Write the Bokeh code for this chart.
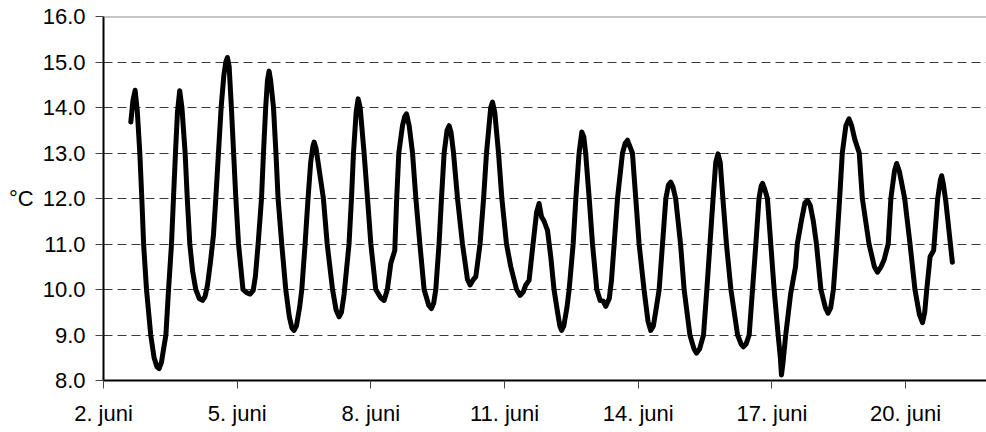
from bokeh.plotting import figure
from bokeh.models import (Range1d, FixedTicker, PrintfTickFormatter, Label, Span)
from bokeh.embed import file_html
from bokeh.resources import INLINE

# day of June (fractional) and temperature (°C)
day = [2.613, 2.66, 2.71, 2.76, 2.815, 2.86, 2.90, 2.965, 3.06, 3.135, 3.20, 3.248, 3.30, 3.35,
       3.40, 3.46, 3.526, 3.57, 3.615, 3.66, 3.71, 3.76, 3.832, 3.88, 3.937, 4.0, 4.071, 4.15,
       4.222, 4.28, 4.334, 4.40, 4.468, 4.52, 4.58, 4.64, 4.70, 4.745, 4.78, 4.82, 4.87, 4.92,
       4.97, 5.03, 5.13, 5.21, 5.29, 5.36, 5.41, 5.47, 5.546, 5.59, 5.64, 5.68, 5.716, 5.75,
       5.815, 5.87, 5.918, 6.0, 6.09, 6.17, 6.23, 6.277, 6.33, 6.40, 6.45, 6.524, 6.59, 6.65,
       6.70, 6.726, 6.77, 6.83, 6.935, 7.02, 7.14, 7.22, 7.287, 7.34, 7.40, 7.51, 7.565, 7.61,
       7.67, 7.714, 7.76, 7.848, 7.925, 8.0, 8.11, 8.22, 8.297, 8.37, 8.447, 8.537, 8.58, 8.627,
       8.71, 8.76, 8.80, 8.86, 8.935, 9.01, 9.10, 9.195, 9.30, 9.36, 9.41, 9.457, 9.53, 9.585,
       9.644, 9.71, 9.756, 9.80, 9.855, 9.945, 10.056, 10.168, 10.227, 10.30, 10.355, 10.45,
       10.53, 10.595, 10.69, 10.73, 10.78, 10.865, 10.94, 11.044, 11.14, 11.27, 11.35, 11.42,
       11.477, 11.55, 11.64, 11.72, 11.775, 11.83, 11.888, 11.964, 12.04, 12.11, 12.19, 12.24,
       12.28, 12.33, 12.40, 12.45, 12.54, 12.60, 12.673, 12.734, 12.78, 12.82, 12.90, 12.974,
       13.07, 13.145, 13.21, 13.273, 13.35, 13.40, 13.46, 13.535, 13.647, 13.71, 13.76, 13.81,
       13.87, 13.945, 14.02, 14.13, 14.22, 14.28, 14.34, 14.39, 14.47, 14.545, 14.62, 14.68,
       14.73, 14.78, 14.84, 14.95, 15.03, 15.16, 15.25, 15.31, 15.38, 15.465, 15.54, 15.61,
       15.68, 15.74, 15.79, 15.84, 15.90, 15.98, 16.08, 16.23, 16.31, 16.36, 16.42, 16.49,
       16.565, 16.64, 16.71, 16.76, 16.79, 16.84, 16.90, 16.975, 17.05, 17.14, 17.19, 17.215,
       17.25, 17.31, 17.42, 17.53, 17.57, 17.66, 17.74, 17.80, 17.86, 17.93, 18.0, 18.10,
       18.20, 18.26, 18.32, 18.38, 18.455, 18.52, 18.58, 18.66, 18.73, 18.79, 18.86, 18.96,
       19.03, 19.18, 19.30, 19.37, 19.45, 19.52, 19.61, 19.67, 19.75, 19.80, 19.86, 19.98,
       20.10, 20.21, 20.31, 20.38, 20.43, 20.475, 20.55, 20.63, 20.72, 20.78, 20.81, 20.85,
       20.90, 21.05]
temp = [13.68, 14.15, 14.38, 13.9, 13.0, 12.0, 11.0, 10.0, 9.0, 8.5, 8.3, 8.26, 8.4, 8.7,
        9.0, 10.0, 11.0, 12.0, 13.0, 13.9, 14.37, 14.0, 13.0, 12.0, 11.0, 10.4, 10.0, 9.8,
        9.76, 9.85, 10.1, 10.6, 11.2, 12.0, 13.0, 14.0, 14.7, 15.0, 15.1, 14.9, 14.0, 13.0,
        12.0, 11.0, 10.0, 9.93, 9.9, 9.98, 10.3, 11.0, 12.0, 13.0, 14.0, 14.6, 14.8, 14.6,
        14.0, 13.0, 12.0, 11.0, 10.0, 9.4, 9.15, 9.1, 9.2, 9.6, 10.0, 11.0, 12.0, 12.8,
        13.15, 13.24, 13.1, 12.7, 12.0, 11.0, 10.0, 9.55, 9.4, 9.5, 9.9, 11.0, 12.0, 13.0,
        13.9, 14.19, 14.0, 13.0, 12.0, 11.0, 10.0, 9.82, 9.76, 10.0, 10.57, 10.86, 12.0, 13.0,
        13.6, 13.8, 13.86, 13.6, 13.0, 12.0, 11.0, 10.0, 9.65, 9.58, 9.7, 10.0, 11.0, 12.0,
        13.0, 13.5, 13.6, 13.45, 13.0, 12.0, 11.0, 10.22, 10.1, 10.22, 10.28, 11.0,
        12.0, 13.0, 14.0, 14.12, 13.9, 13.0, 12.0, 11.0, 10.5, 10.0, 9.87, 9.95,
        10.1, 10.2, 11.0, 11.7, 11.89, 11.6, 11.5, 11.3, 10.7, 10.0, 9.5, 9.2,
        9.1, 9.2, 9.6, 10.0, 11.0, 12.0, 13.0, 13.46, 13.35, 13.0, 12.0, 11.0,
        10.0, 9.76, 9.75, 9.63, 9.8, 10.2, 11.0, 12.0, 13.0, 13.22, 13.28, 13.15,
        13.0, 12.0, 11.0, 10.0, 9.3, 9.1, 9.2, 9.5, 10.0, 11.0, 12.0, 12.3,
        12.36, 12.25, 12.0, 11.0, 10.0, 9.0, 8.7, 8.6, 8.7, 9.0, 10.0, 11.0,
        12.0, 12.8, 12.98, 12.8, 12.0, 11.0, 10.0, 9.0, 8.8, 8.74, 8.8, 9.0,
        10.0, 11.0, 12.0, 12.28, 12.33, 12.2, 12.0, 11.0, 10.0, 9.0, 8.5, 8.12,
        8.4, 9.0, 9.9, 10.5, 11.0, 11.5, 11.9, 11.96, 11.85, 11.5, 11.0, 10.0,
        9.6, 9.48, 9.6, 10.0, 11.0, 12.0, 13.0, 13.6, 13.75, 13.6, 13.3, 13.0,
        12.0, 11.0, 10.5, 10.38, 10.5, 10.66, 11.0, 12.0, 12.6, 12.77, 12.6, 12.0,
        11.0, 10.0, 9.45, 9.27, 9.5, 10.0, 10.72, 10.86, 12.0, 12.4, 12.5, 12.3,
        11.96, 10.6]

x_ticks = [2, 5, 8, 11, 14, 17, 20]
x_tick_labels = ["2. juni", "5. juni", "8. juni", "11. juni", "14. juni", "17. juni", "20. juni"]
y_ticks = [8, 9, 10, 11, 12, 13, 14, 15, 16]
y_label = "°C"

FONT = "Liberation Sans"

p = figure(width=986, height=432, output_backend="svg", toolbar_location=None,
           x_range=Range1d(2, 21.816), y_range=Range1d(8, 16),
           min_border_left=103, min_border_right=0, min_border_top=16, min_border_bottom=52)
p.outline_line_color = None
p.background_fill_color = "white"
p.border_fill_color = "white"

p.xgrid.visible = False
p.ygrid.ticker = FixedTicker(ticks=y_ticks[1:-1])
p.ygrid.grid_line_color = "#3a3a3a"
p.ygrid.grid_line_dash = "9 5"
p.ygrid.grid_line_width = 1

p.add_layout(Span(location=y_ticks[-1], dimension="width", line_color="#8c8c8c", line_width=2))

p.xaxis.ticker = FixedTicker(ticks=x_ticks)
p.xaxis.major_label_overrides = {t: l for t, l in zip(x_ticks, x_tick_labels)}
p.yaxis.ticker = FixedTicker(ticks=y_ticks)
p.yaxis.formatter = PrintfTickFormatter(format="%.1f")

for ax in (p.xaxis, p.yaxis):
    ax.axis_line_color = "black"
    ax.axis_line_width = 2
    ax.major_tick_line_color = "#444444"
    ax.major_tick_line_width = 1
    ax.major_tick_out = 8
    ax.major_tick_in = 0
    ax.minor_tick_line_color = None
    ax.major_label_text_font = FONT
    ax.major_label_text_font_size = "22px"
    ax.major_label_text_color = "black"
p.xaxis.major_label_standoff = 12
p.yaxis.major_label_standoff = 10

p.line(day, temp, line_color="black", line_width=5, line_join="round", line_cap="round")

yax = p.yaxis[0]
if hasattr(yax, "axis_label_orientation"):
    yax.axis_label = y_label
    yax.axis_label_orientation = "horizontal"
    yax.axis_label_text_font = FONT
    yax.axis_label_text_font_size = "22px"
    yax.axis_label_text_font_style = "normal"
    yax.axis_label_text_color = "black"
    yax.axis_label_standoff = 6
else:
    p.add_layout(Label(x=12, y=12.0, x_units="screen", text=y_label,
                       text_font=FONT, text_font_size="22px", text_baseline="middle",
                       text_align="left", text_color="black"))

open("out.html", "w").write(file_html(p, INLINE))
